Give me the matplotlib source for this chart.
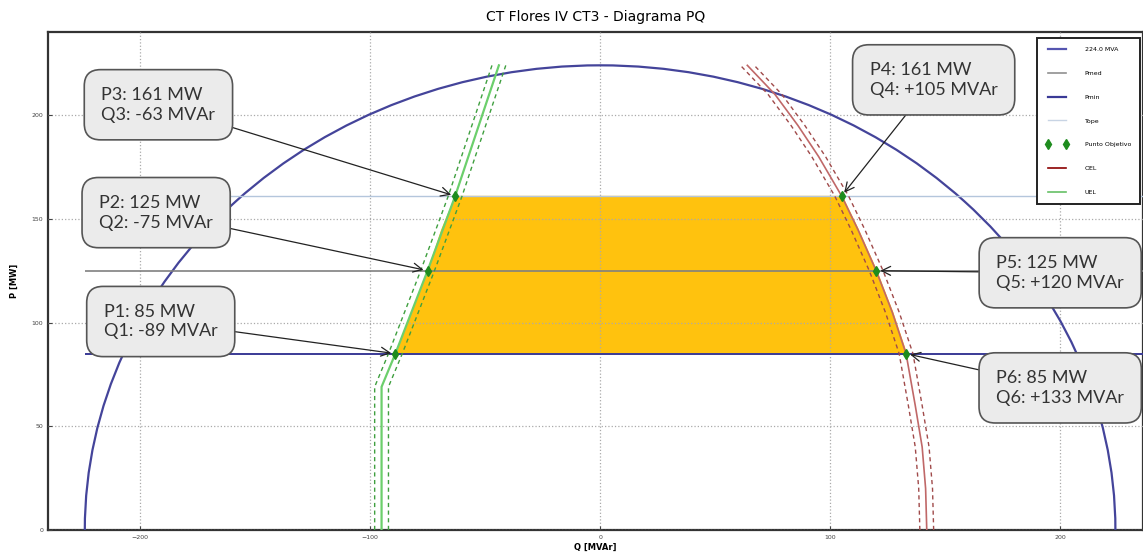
import matplotlib
matplotlib.use('Agg')
import matplotlib.pyplot as plt
from matplotlib.patches import Arc
from matplotlib.lines import Line2D

s_nom = 224.0
p_med = 125
p_min = 85
p_tope = 161

# Curva OEL (limite de sobreexcitacion)
oel_p = [0, 20, 40, 60, 85, 105, 125, 145, 161, 180, 195, 210, 224]
oel_q = [142, 141.5, 140, 137, 133, 127, 120, 112, 105, 95, 86, 76, 64]

# Curva UEL (limite de subexcitacion)
uel_p = [0, 69, 85, 125, 161, 224]
uel_q = [-95, -95, -89, -75, -63, -44]

# Zona de operacion
zone_p = [85, 105, 125, 145, 161]
zone_q_min = [-89, -82, -75, -69, -63]
zone_q_max = [133, 127, 120, 112, 105]

# Puntos objetivo
pts_name = ['1', '2', '3', '4', '5', '6']
pts_p = [85, 125, 161, 161, 125, 85]
pts_q = [-89, -75, -63, 105, 120, 133]
box_q = [-191, -193, -192, 145, 200, 200]
box_p = [100.5, 153, 205, 217, 124, 68.5]

band = 3.0

fig = plt.figure(figsize=(11.43, 5.60), dpi=100)
ax = fig.add_axes([0.042, 0.0536, 0.958, 0.889])

# circulo de potencia nominal
ax.add_patch(Arc((0, 0), 2 * s_nom, 2 * s_nom, theta1=0, theta2=180,
                 color='#44449a', lw=1.6, zorder=3))

ax.fill_betweenx(zone_p, zone_q_min, zone_q_max, color='#ffc20e', zorder=2)

ax.hlines(p_med, -s_nom, 240, color='#808080', lw=1.2, zorder=3)
ax.hlines(p_min, -s_nom, 240, color='#3a3a96', lw=1.4, zorder=3)
ax.hlines(p_tope, -s_nom, 240, color='#b4c6dc', lw=1.0, zorder=3)

# OEL
ax.plot(oel_q, oel_p, color='#c06868', lw=1.2, zorder=4)
ax.plot([q - band for q in oel_q], oel_p, color='#a04a4a', lw=1.0,
        ls=(0, (3, 2.5)), zorder=4)
ax.plot([q + band for q in oel_q], oel_p, color='#a04a4a', lw=1.0,
        ls=(0, (3, 2.5)), zorder=4)

# UEL
ax.plot(uel_q, uel_p, color='#6ccf6c', lw=1.6, zorder=4)
ax.plot([q - band for q in uel_q], uel_p, color='#3f9f3f', lw=1.0,
        ls=(0, (3, 2.5)), zorder=4)
ax.plot([q + band for q in uel_q], uel_p, color='#3f9f3f', lw=1.0,
        ls=(0, (3, 2.5)), zorder=4)

ax.plot(pts_q, pts_p, 'd', color='#1e8c1e', ms=5.5, zorder=6)

for i in range(len(pts_p)):
    sign = '+' if pts_q[i] > 0 else ''
    txt = 'P%s: %d MW\nQ%s: %s%d MVAr' % (pts_name[i], pts_p[i], pts_name[i],
                                          sign, pts_q[i])
    ax.annotate(txt, xy=(pts_q[i], pts_p[i]), xytext=(box_q[i], box_p[i]),
                ha='center', va='center', multialignment='left',
                fontsize=13, family='Lato', color='#333333',
                linespacing=1.3, zorder=8,
                bbox=dict(boxstyle='round,pad=0.95,rounding_size=0.9',
                          fc='#ebebeb', ec='#555555', lw=1.2),
                arrowprops=dict(arrowstyle='->', color='#222222', lw=0.9,
                                mutation_scale=16, shrinkA=0, shrinkB=3))

ax.set_xlim(-240, 236)
ax.set_ylim(0, 240)
ax.set_xticks([-200, -100, 0, 100, 200])
ax.set_yticks([0, 50, 100, 150, 200])
ax.tick_params(labelsize=4.5, direction='in', length=3, colors='#444444')
ax.grid(True, ls=':', color='#aaaaaa', lw=0.9)
ax.set_axisbelow(False)
for s in ax.spines.values():
    s.set_linewidth(1.6)
    s.set_color('#333333')

ax.set_title('CT Flores IV CT3 - Diagrama PQ', fontsize=10, pad=8)
ax.set_xlabel('Q [MVAr]', fontsize=6, fontweight='bold', labelpad=2)
ax.set_ylabel('P [MW]', fontsize=6, fontweight='bold', labelpad=9)

handles = [
    Line2D([], [], color='#5555b0', lw=1.6),
    Line2D([], [], color='#909090', lw=1.2),
    Line2D([], [], color='#3a3a96', lw=1.6),
    Line2D([], [], color='#c8d4e4', lw=1.0),
    Line2D([], [], ls='none', marker='d', color='#1e8c1e', ms=5),
    Line2D([], [], color='#8b0000', lw=1.2),
    Line2D([], [], color='#66c066', lw=1.2),
]
labels = ['224.0 MVA', 'Pmed', 'Pmin', 'Tope', 'Punto Objetivo', 'OEL', 'UEL']
leg = ax.legend(handles, labels, loc='upper right',
                bbox_to_anchor=(0.997, 0.988), fontsize=4.5, numpoints=2,
                labelspacing=2.95, handlelength=3.6, handletextpad=2.6,
                borderpad=1.4, borderaxespad=0, fancybox=False, framealpha=1)
leg.get_frame().set_edgecolor('#222222')
leg.get_frame().set_linewidth(1.4)
leg.set_zorder(9)

fig.savefig('out.png', dpi=100)
